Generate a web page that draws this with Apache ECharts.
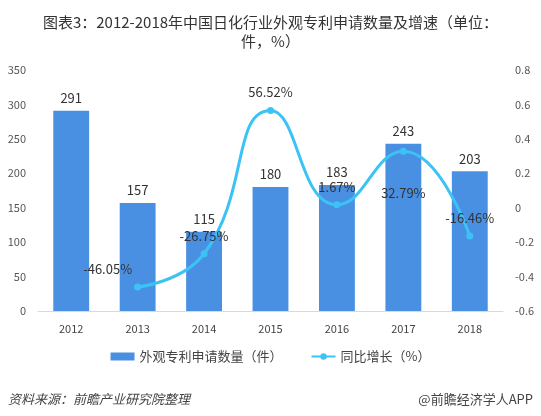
<!DOCTYPE html>
<html>
<head>
<meta charset="utf-8">
<script src="https://cdn.jsdelivr.net/npm/echarts@6/dist/echarts.min.js"></script>
<style>
  html, body { margin: 0; padding: 0; background: #fff; }
  #main { width: 541px; height: 416px; }
</style>
</head>
<body>
<div id="main"></div>
<script>
var years = ['2012', '2013', '2014', '2015', '2016', '2017', '2018'];
var patents = [291, 157, 115, 180, 183, 243, 203];
var growth = [null, -0.4605, -0.2675, 0.5652, 0.0167, 0.3279, -0.1646];
var leftTicks = { min: 0, max: 350, interval: 50 };
var rightTicks = { min: -0.6, max: 0.8, interval: 0.2 };

var font = '"Microsoft YaHei", "Noto Sans CJK SC", sans-serif';
var chart = echarts.init(document.getElementById('main'));

// label nudges for the growth line (as placed in the original)
var lineLabelShift = { 1: [-30, 0], 5: [0, 60] };

var option = {
  backgroundColor: '#fff',
  textStyle: { fontFamily: font },
  title: {
    text: '图表3：2012-2018年中国日化行业外观专利申请数量及增速（单位：\n件，%）',
    left: 'center',
    top: 8,
    textStyle: { fontSize: 15, fontWeight: 'normal', color: '#333', lineHeight: 19, fontFamily: font, align: 'center' }
  },
  grid: { left: 38, right: 38, top: 70, bottom: 105 },
  legend: {
    bottom: 48,
    left: 'center',
    itemGap: 28,
    itemWidth: 24,
    itemHeight: 8,
    textStyle: { fontSize: 13, color: '#444' },
    data: [
      { name: '外观专利申请数量（件）', icon: 'rect' },
      { name: '同比增长（%）' }
    ]
  },
  xAxis: {
    type: 'category',
    data: years,
    axisLine: { lineStyle: { color: '#d9d9d9' } },
    axisTick: { show: false },
    axisLabel: { color: '#444', fontSize: 11, margin: 12 }
  },
  yAxis: [
    {
      type: 'value',
      min: leftTicks.min, max: leftTicks.max, interval: leftTicks.interval,
      axisLine: { show: false },
      axisTick: { show: false },
      splitLine: { show: false },
      axisLabel: { color: '#555', fontSize: 11, margin: 12 }
    },
    {
      type: 'value',
      min: rightTicks.min, max: rightTicks.max, interval: rightTicks.interval,
      axisLine: { show: false },
      axisTick: { show: false },
      splitLine: { show: false },
      axisLabel: {
        color: '#555', fontSize: 11, margin: 12, align: 'left',
        formatter: function (v) { return Math.abs(v) < 1e-9 ? '0' : String(Math.round(v * 10) / 10); }
      }
    }
  ],
  series: [
    {
      name: '外观专利申请数量（件）',
      type: 'bar',
      data: patents,
      barWidth: '54%',
      itemStyle: { color: '#4a90e2' },
      label: { show: true, position: 'top', color: '#333', fontSize: 13, distance: 6 }
    },
    {
      name: '同比增长（%）',
      type: 'line',
      yAxisIndex: 1,
      data: growth,
      smooth: 0.5,
      symbol: 'circle',
      symbolSize: 7,
      connectNulls: false,
      lineStyle: { color: '#3cc3f6', width: 3 },
      itemStyle: { color: '#3cc3f6' },
      label: {
        show: true,
        position: 'top',
        color: '#333',
        fontSize: 13,
        distance: 8,
        formatter: function (p) { return p.value == null ? '' : (p.value * 100).toFixed(2) + '%'; }
      },
      labelLayout: function (params) {
        var s = lineLabelShift[params.dataIndex];
        return s ? { dx: s[0], dy: s[1] } : {};
      }
    }
  ],
  graphic: [
    {
      type: 'text', left: 8, bottom: 10,
      style: { text: '资料来源：前瞻产业研究院整理', font: 'italic 13px ' + font, fill: '#444' }
    },
    {
      type: 'text', right: 8, bottom: 10,
      style: { text: '@前瞻经济学人APP', font: '13px ' + font, fill: '#444' }
    }
  ]
};
chart.setOption(option);
</script>
</body>
</html>
